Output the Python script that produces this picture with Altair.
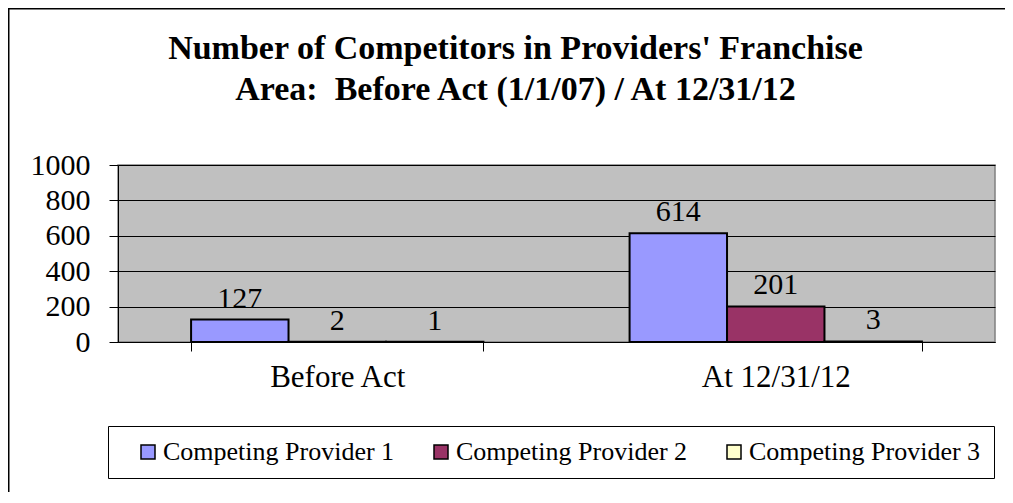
import altair as alt
import pandas as pd

categories = ["Before Act", "At 12/31/12"]
series = ["Competing Provider 1", "Competing Provider 2", "Competing Provider 3"]
provider1 = [127, 614]
provider2 = [2, 201]
provider3 = [1, 3]
colors = ["#9999FF", "#993366", "#FFFFCC"]
y_ticks = [0, 200, 400, 600, 800, 1000]
title_lines = ["Number of Competitors in Providers' Franchise",
               "Area:\u00a0 Before Act (1/1/07) / At 12/31/12"]

rows = []
for s, vals in zip(series, [provider1, provider2, provider3]):
    for c, v in zip(categories, vals):
        rows.append({"category": c, "series": s, "value": v})
df = pd.DataFrame(rows)

FONT = "Liberation Serif"

x_axis = alt.Axis(labelAngle=0, tickBand="extent", tickSize=9,
                  tickColor="black", domainColor="black",
                  labelFont=FONT, labelFontSize=31, labelColor="black",
                  labelPadding=11, grid=False)
y_axis = alt.Axis(values=y_ticks, format="d", tickSize=9, tickColor="black",
                  domainColor="black", labelFont=FONT,
                  labelFontSize=30, labelColor="black",
                  labelPadding=19, labelOverlap=False, labelFlush=False,
                  grid=True, gridColor="black", gridOpacity=1, gridWidth=1)

x_enc = alt.X("category:N", sort=categories, title=None,
              scale=alt.Scale(paddingInner=1/3, paddingOuter=1/6), axis=x_axis)
xo_enc = alt.XOffset("series:N", sort=series,
                     scale=alt.Scale(paddingInner=0, paddingOuter=0))
y_enc = alt.Y("value:Q", title=None,
              scale=alt.Scale(domain=[0, 1000], nice=False), axis=y_axis)

bars = alt.Chart(df).mark_bar(stroke="black", strokeWidth=2).encode(
    x=x_enc, xOffset=xo_enc, y=y_enc,
    color=alt.Color("series:N", sort=series,
                    scale=alt.Scale(domain=series, range=colors),
                    legend=alt.Legend(title=None, orient="none", legendX=-10, legendY=261,
                                      direction="horizontal", columns=3,
                                      symbolType="square", symbolSize=196,
                                      symbolStrokeColor="black", symbolStrokeWidth=1.5,
                                      symbolOpacity=1, symbolOffset=14,
                                      labelFont=FONT, labelFontSize=26, labelColor="black",
                                      labelOffset=2, labelLimit=400, columnPadding=19,
                                      padding=13, fillColor="white",
                                      strokeColor="black")),
)

labels = alt.Chart(df).mark_text(baseline="bottom", dy=-6, font=FONT,
                                 fontSize=30, color="black").encode(
    x=x_enc, xOffset=xo_enc, y=y_enc, text=alt.Text("value:Q"))

one = alt.Data(values=[{"f": 1}])
frame_left = alt.Chart(one).mark_rule(color="black", strokeWidth=1.5).encode(
    x=alt.value(-109.25), y=alt.value(-156.25), y2=alt.value(3000))
frame_top = alt.Chart(one).mark_rule(color="black", strokeWidth=1.5).encode(
    x=alt.value(-110), x2=alt.value(887), y=alt.value(-156.25))

chart = alt.layer(frame_left, frame_top, bars, labels).properties(
    width=877, height=177,
    background="white",
    autosize=alt.AutoSizeParams(type="none"),
    padding={"left": 110, "top": 157, "right": 10, "bottom": 150},
    title=alt.TitleParams(text=title_lines, font=FONT, fontSize=34, fontWeight="bold",
                          color="black", anchor="middle", dx=-41, offset=-99,
                          lineHeight=41),
).configure_view(fill="#C0C0C0", stroke="#808080", strokeWidth=1.5)

chart.save("out.html", embed_options={"renderer": "svg", "actions": False})
